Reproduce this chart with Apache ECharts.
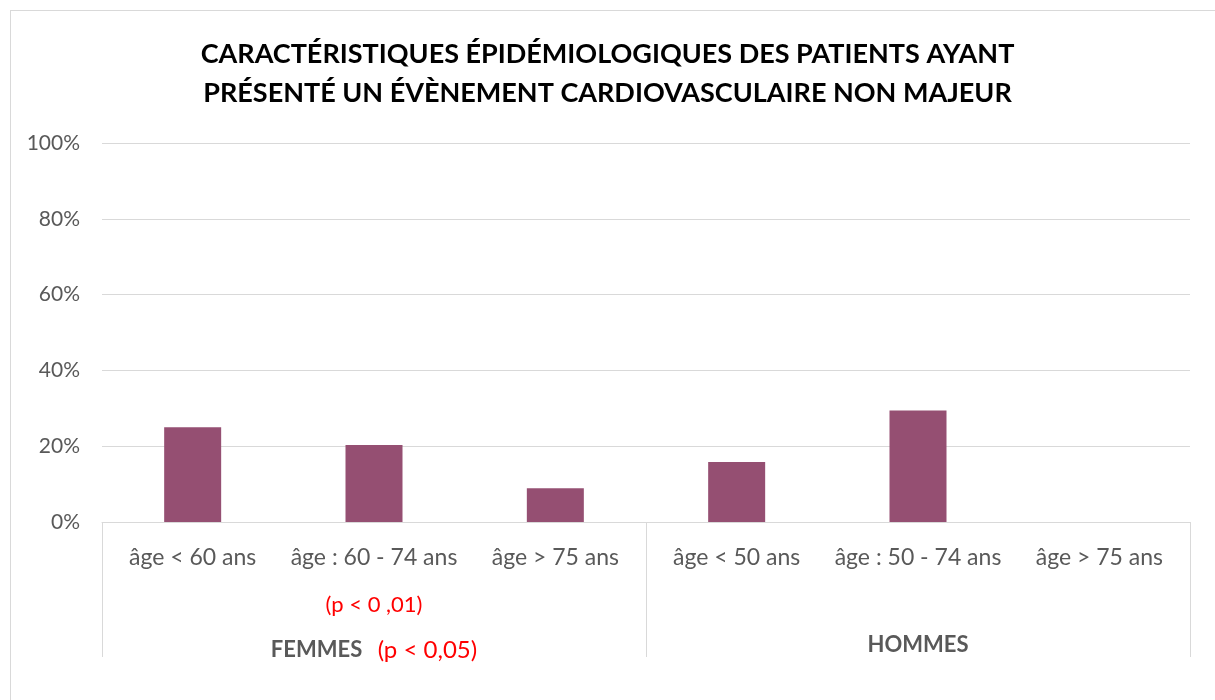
<!DOCTYPE html>
<html>
<head>
<meta charset="utf-8">
<script src="https://cdn.jsdelivr.net/npm/echarts@6/dist/echarts.min.js"></script>
<style>
html,body{margin:0;padding:0;background:#fff;}
#frame{position:absolute;left:10px;top:10px;width:1215px;height:700px;border:1px solid #d9d9d9;box-sizing:border-box;}
#chart{position:absolute;left:0;top:0;width:1215px;height:700px;}
</style>
</head>
<body>
<div id="frame"></div>
<div id="chart"></div>
<script>
const titleLines = ['CARACTÉRISTIQUES ÉPIDÉMIOLOGIQUES DES PATIENTS AYANT', 'PRÉSENTÉ UN ÉVÈNEMENT CARDIOVASCULAIRE NON MAJEUR'];
const categories = ['âge < 60 ans', 'âge : 60 - 74 ans', 'âge > 75 ans', 'âge < 50 ans', 'âge : 50 - 74 ans', 'âge > 75 ans'];
const categoryNotes = ['', '(p < 0 ,01)', '', '', '', ''];
const groups = ['FEMMES', 'HOMMES'];
const groupNotes = ['(p < 0,05)', ''];
const values = [0.25, 0.203, 0.089, 0.158, 0.294, 0];
const yTicks = [0, 0.2, 0.4, 0.6, 0.8, 1.0];

const FONT = 'Lato';
const chart = echarts.init(document.getElementById('chart'), null, {renderer: 'canvas'});
chart.setOption({
  animation: false,
  title: {
    text: titleLines.join('\n'),
    left: 'center',
    top: 30,
    textStyle: {fontFamily: FONT, fontWeight: 'bold', fontSize: 27, color: '#000', lineHeight: 39}
  },
  grid: {left: 102, right: 25, top: 143, bottom: 178, containLabel: false},
  xAxis: [
    {
      type: 'category',
      data: categories,
      position: 'bottom',
      axisLine: {show: true, lineStyle: {color: '#d9d9d9', width: 1}},
      axisTick: {show: false},
      axisLabel: {
        interval: 0,
        margin: 22,
        formatter: function (v, i) {
          return categoryNotes[i] ? '{a|' + v + '}\n{r|' + categoryNotes[i] + '}' : '{a|' + v + '}';
        },
        rich: {
          a: {fontFamily: FONT, fontSize: 23, color: '#595959', lineHeight: 28},
          r: {fontFamily: FONT, fontSize: 22, color: '#ff0000', lineHeight: 66}
        }
      }
    },
    {
      type: 'category',
      data: groups,
      position: 'bottom',
      axisLine: {show: false},
      axisTick: {show: true, length: 135, lineStyle: {color: '#d9d9d9', width: 1}},
      axisLabel: {
        interval: 0,
        margin: 114,
        formatter: function (v, i) {
          return groupNotes[i] ? '{b|' + v + '}{s|   }{r|' + groupNotes[i] + '}' : '{h|' + v + '}';
        },
        rich: {
          b: {fontFamily: FONT, fontSize: 22, fontWeight: 'bold', color: '#595959', lineHeight: 28},
          h: {fontFamily: FONT, fontSize: 22, fontWeight: 'bold', color: '#595959', lineHeight: 18},
          s: {fontFamily: FONT, fontSize: 20},
          r: {fontFamily: FONT, fontSize: 24, color: '#ff0000', lineHeight: 28}
        }
      }
    }
  ],
  yAxis: {
    type: 'value',
    min: yTicks[0],
    max: yTicks[yTicks.length - 1],
    interval: 0.2,
    axisLine: {show: false},
    axisTick: {show: false},
    splitLine: {lineStyle: {color: '#d9d9d9', width: 1}},
    axisLabel: {
      margin: 22,
      fontFamily: FONT,
      fontSize: 21,
      color: '#595959',
      formatter: function (v) { return Math.round(v * 100) + '%'; }
    }
  },
  series: [{
    type: 'bar',
    xAxisIndex: 0,
    data: values,
    barWidth: 57,
    itemStyle: {color: '#954f72'}
  }]
});
</script>
</body>
</html>
